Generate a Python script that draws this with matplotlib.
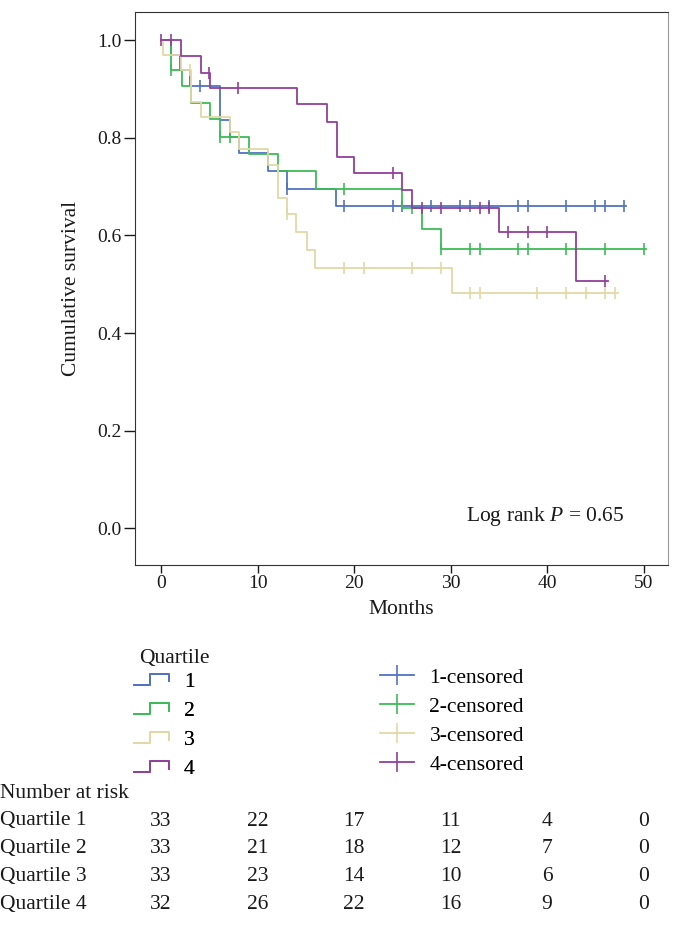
import numpy as np
import matplotlib
matplotlib.use("Agg")
import matplotlib.pyplot as plt
from matplotlib.lines import Line2D
from matplotlib.legend_handler import HandlerBase
from matplotlib.transforms import blended_transform_factory

plt.rcParams["font.family"] = ["Liberation Serif", "DejaVu Serif"]
plt.rcParams["mathtext.fontset"] = "custom"
plt.rcParams["mathtext.rm"] = "Liberation Serif"
plt.rcParams["mathtext.it"] = "Liberation Serif:italic"

# step curves (event times, survival after each step) and censor times
q1_t = [0, 1, 2, 3, 6.1, 7.1, 8.1, 11.1, 13, 18.1]
q1_s = [1.0, 0.970, 0.939, 0.906, 0.836, 0.802, 0.768, 0.732, 0.696, 0.660]
q1_end = 48.2
q1_cens = [4, 13, 19, 24, 25, 28, 31, 32, 34, 37, 38, 42, 45, 46, 48]

q2_t = [0, 1, 2.2, 3.1, 5.1, 6.1, 9.1, 12.1, 16.1, 25, 27, 29]
q2_s = [1.0, 0.939, 0.906, 0.872, 0.838, 0.802, 0.766, 0.732, 0.696, 0.657,
        0.614, 0.573]
q2_end = 50.3
q2_cens = [1, 6.1, 7.1, 19, 26, 29, 32, 33, 37, 38, 42, 46, 50]

q3_t = [0, 0.15, 2.1, 3.1, 4.1, 7.1, 8.1, 11.1, 12.1, 13, 14, 15.1, 16, 30.1]
q3_s = [1.0, 0.970, 0.939, 0.874, 0.842, 0.811, 0.778, 0.745, 0.676, 0.643,
        0.606, 0.570, 0.534, 0.482]
q3_end = 47.3
q3_cens = [3, 13, 19, 21, 26, 29, 32, 33, 39, 42, 44, 46, 47]

q4_t = [0, 2.1, 4.1, 5.1, 14.1, 17.2, 18.2, 20, 25, 26, 35, 43]
q4_s = [1.0, 0.967, 0.932, 0.903, 0.869, 0.832, 0.760, 0.728, 0.694, 0.657,
        0.608, 0.506]
q4_end = 46.3
q4_cens = [0, 1, 5, 8, 24, 27, 29, 33, 34, 36, 38, 40, 46]

risk_times = [0, 10, 20, 30, 40, 50]
risk_q1 = [33, 22, 17, 11, 4, 0]
risk_q2 = [33, 21, 18, 12, 7, 0]
risk_q3 = [33, 23, 14, 10, 6, 0]
risk_q4 = [32, 26, 22, 16, 9, 0]

BLUE = "#5272c2"
GREEN = "#3dbb57"
BEIGE = "#e0d9a6"
PURPLE = "#923f9a"
INK = "#1a1a1a"
FS = 15.5
TICK_FS = 14


class StepHandler(HandlerBase):
    def create_artists(self, legend, orig, xd, yd, w, h, fs, trans):
        xs = np.array([0, 0.45, 0.45, 1, 1]) * w - xd
        ys = np.array([0.1, 0.1, 0.85, 0.85, 0.35]) * h - yd
        ln = Line2D(xs, ys, color=orig.get_color(), lw=orig.get_linewidth())
        ln.set_transform(trans)
        return [ln]


fig = plt.figure(figsize=(6.82, 9.51), dpi=100)
ax = fig.add_axes([0.198, 0.406, 0.781, 0.581])

groups = [("1", q1_t, q1_s, q1_end, q1_cens, BLUE),
          ("2", q2_t, q2_s, q2_end, q2_cens, GREEN),
          ("3", q3_t, q3_s, q3_end, q3_cens, BEIGE),
          ("4", q4_t, q4_s, q4_end, q4_cens, PURPLE)]

step_handles = []
cens_handles = []
for name, t, s, end, cens, col in groups:
    tt = np.append(t, end)
    ss = np.append(s, s[-1])
    ln, = ax.step(tt, ss, where="post", color=col, lw=1.3)
    idx = np.searchsorted(t, cens, side="right") - 1
    cy = np.array(s)[idx]
    ax.plot(cens, cy, ls="none", marker="|", ms=8, mew=1.2, color=col)
    step_handles.append(ln)
    cens_handles.append(Line2D([], [], color=col, lw=1.3, marker="|",
                               ms=15, mew=1.2))

ax.set_xlim(-2.7, 52.5)
ax.set_ylim(-0.075, 1.057)
ax.set_xticks([0, 10, 20, 30, 40, 50])
ax.set_yticks([0.0, 0.2, 0.4, 0.6, 0.8, 1.0])
ax.set_yticklabels(["0.0", "0.2", "0.4", "0.6", "0.8", "1.0"])
ax.tick_params(direction="out", width=1, labelsize=TICK_FS, colors=INK)
ax.tick_params(axis="y", length=8, pad=1.5)
ax.tick_params(axis="x", length=6, pad=1.5)
for side in ("left", "bottom", "top"):
    ax.spines[side].set_color("#333333")
ax.spines["right"].set_color("#999999")
ax.set_xlabel("Months", fontsize=FS, color=INK, labelpad=5.5)
ax.set_ylabel("Cumulative survival", fontsize=FS, color=INK, labelpad=12)
ax.text(0.919, 0.087, "Log rank $\\it{P}$ = 0.65", transform=ax.transAxes,
        ha="right", va="center", fontsize=FS, color=INK)

# quartile legend: title as plain text, step-shaped handles
fig.text(139 / 682, 1 - 658 / 951, "Quartile", ha="left", va="center",
         fontsize=FS, color=INK)
leg1 = fig.legend(step_handles, ["1", "2", "3", "4"],
                  loc="upper left", bbox_to_anchor=(0.197, 0.2938),
                  frameon=False, fontsize=FS,
                  handlelength=1.6, handletextpad=0.7, labelspacing=0.42,
                  borderpad=0, borderaxespad=0,
                  handler_map={Line2D: StepHandler()})
fig.add_artist(leg1)
fig.legend(cens_handles, ["1-censored", "2-censored", "3-censored",
                          "4-censored"],
           loc="upper left", bbox_to_anchor=(0.557, 0.298), frameon=False,
           fontsize=FS, handlelength=1.6, handletextpad=0.7,
           labelspacing=0.42, borderpad=0, borderaxespad=0)

# number at risk table aligned to the month axis
tr = blended_transform_factory(ax.transData, fig.transFigure)
fig.text(0.0, 1 - 793 / 951, "Number at risk", ha="left", va="center",
         fontsize=FS, color=INK)
rows = [risk_q1, risk_q2, risk_q3, risk_q4]
for i, row in enumerate(rows):
    y = 1 - (821 + i * 27.7) / 951
    fig.text(0.0, y, f"Quartile {i + 1}", ha="left", va="center",
             fontsize=FS, color=INK)
    for tm, n in zip(risk_times, row):
        fig.text(tm, y, str(n), transform=tr, ha="center", va="center",
                 fontsize=FS, color=INK)

fig.savefig("out.png", dpi=100)
